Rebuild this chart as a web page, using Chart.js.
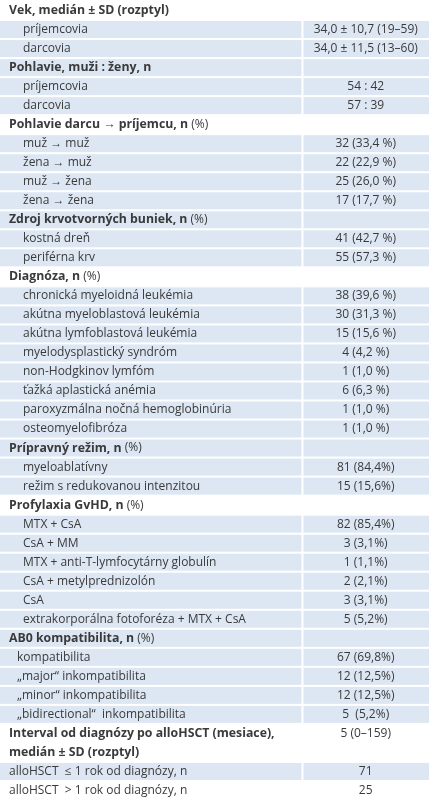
<!DOCTYPE html>
<html><head><meta charset="utf-8">
<script src="https://cdn.jsdelivr.net/npm/chart.js@4"></script>
<style>html,body{margin:0;padding:0;background:#fff}#w{width:429px;height:800px}</style>
</head><body><div id="w"><canvas id="c"></canvas></div>
<script>
const rowLabels = [
 "Vek, medián ± SD (rozptyl)","príjemcovia","darcovia",
 "Pohlavie, muži : ženy, n","príjemcovia","darcovia",
 "Pohlavie darcu → príjemcu, n (%)","muž → muž","žena → muž","muž → žena","žena → žena",
 "Zdroj krvotvorných buniek, n (%)","kostná dreň","periférna krv",
 "Diagnóza, n (%)","chronická myeloidná leukémia","akútna myeloblastová leukémia","akútna lymfoblastová leukémia","myelodysplastický syndróm","non-Hodgkinov lymfóm","ťažká aplastická anémia","paroxyzmálna nočná hemoglobinúria","osteomyelofibróza",
 "Prípravný režim, n (%)","myeloablatívny","režim s redukovanou intenzitou",
 "Profylaxia GvHD, n (%)","MTX + CsA","CsA + MM","MTX + anti-T-lymfocytárny globulín","CsA + metylprednizolón","CsA","extrakorporálna fotoforéza + MTX + CsA",
 "AB0 kompatibilita, n (%)","kompatibilita","„major“ inkompatibilita","„minor“ inkompatibilita","„bidirectional“  inkompatibilita",
 "Interval od diagnózy po alloHSCT (mesiace),","medián ± SD (rozptyl)",
 "alloHSCT  ≤ 1 rok od diagnózy, n","alloHSCT  > 1 rok od diagnózy, n"];
const rowValues = [
 "","34,0 ± 10,7 (19–59)","34,0 ± 11,5 (13–60)",
 "","54 : 42","57 : 39",
 "","32 (33,4 %)","22 (22,9 %)","25 (26,0 %)","17 (17,7 %)",
 "","41 (42,7 %)","55 (57,3 %)",
 "","38 (39,6 %)","30 (31,3 %)","15 (15,6 %)","4 (4,2 %)","1 (1,0 %)","6 (6,3 %)","1 (1,0 %)","1 (1,0 %)",
 "","81 (84,4%)","15 (15,6%)",
 "","82 (85,4%)","3 (3,1%)","1 (1,1%)","2 (2,1%)","3 (3,1%)","5 (5,2%)",
 "","67 (69,8%)","12 (12,5%)","12 (12,5%)","5  (5,2%)",
 "5 (0–159)","",
 "71","25"];
const rowKinds = ["h","s","s","h","s","s","h","s","s","s","s","h","s","s","h","s","s","s","s","s","s","s","s","h","s","s","h","s","s","s","s","s","s","h","a","a","a","a","b","b","p","p"];
const rowShaded = [0,1,1,1,1,1,0,1,1,1,1,1,1,1,0,1,1,1,1,1,1,1,1,1,1,1,0,1,1,1,1,1,1,1,1,1,1,1,0,0,1,0];

const REG = '12px "Open Sans", sans-serif', BOLD = 'bold 12.3px "Open Sans", sans-serif';
const tablePlugin = {id:'tbl', beforeDatasetsDraw(chart){
  const {ctx, scales:{x,y}} = chart;
  const x0 = x.getPixelForValue(0), xs = x.getPixelForValue(70.5), x1 = x.getPixelForValue(100);
  const h = Math.abs(y.getPixelForValue(1)-y.getPixelForValue(0));
  ctx.save();
  rowLabels.forEach((lab,i)=>{
    const cy = y.getPixelForValue(i);
    const top = cy - h/2 + 1, hh = h - 2;
    if(rowShaded[i]){
      ctx.fillStyle = '#dde7f3';
      ctx.fillRect(x0, top, xs - x0 - 1, hh);
      ctx.fillRect(xs + 1, top, x1 - xs - 1, hh);
    }
    const k = rowKinds[i];
    ctx.fillStyle = '#3a3a3a';
    ctx.textBaseline = 'middle';
    ctx.textAlign = 'left';
    ctx.font = (k==='h'||k==='b') ? BOLD : REG;
    const tx = k==='s'?23:(k==='a'?17:9);
    const m = k==='h' ? lab.match(/^(.*?)(\s\(%\))$/) : null;
    if(m){
      ctx.fillText(m[1], tx, cy); const w = ctx.measureText(m[1]).width;
      ctx.font = REG; ctx.fillText(m[2], tx+w, cy);
    } else ctx.fillText(lab, tx, cy);
    if(rowValues[i]){
      ctx.font = REG;
      ctx.textAlign = 'center';
      ctx.fillText(rowValues[i], (xs+x1)/2, cy);
    }
  });
  ctx.restore();
}};

new Chart(document.getElementById('c'), {
  type:'bar',
  data:{labels: rowLabels.map((_,i)=>i), datasets:[{data: rowLabels.map(()=>0), backgroundColor:'rgba(0,0,0,0)'}]},
  options:{indexAxis:'y', responsive:true, maintainAspectRatio:false, animation:false,
    layout:{padding:{left:0,right:0,top:1,bottom:0}},
    plugins:{legend:{display:false}, tooltip:{enabled:false}},
    scales:{x:{display:false,min:0,max:100}, y:{display:false}}},
  plugins:[tablePlugin]
});
</script></body></html>
